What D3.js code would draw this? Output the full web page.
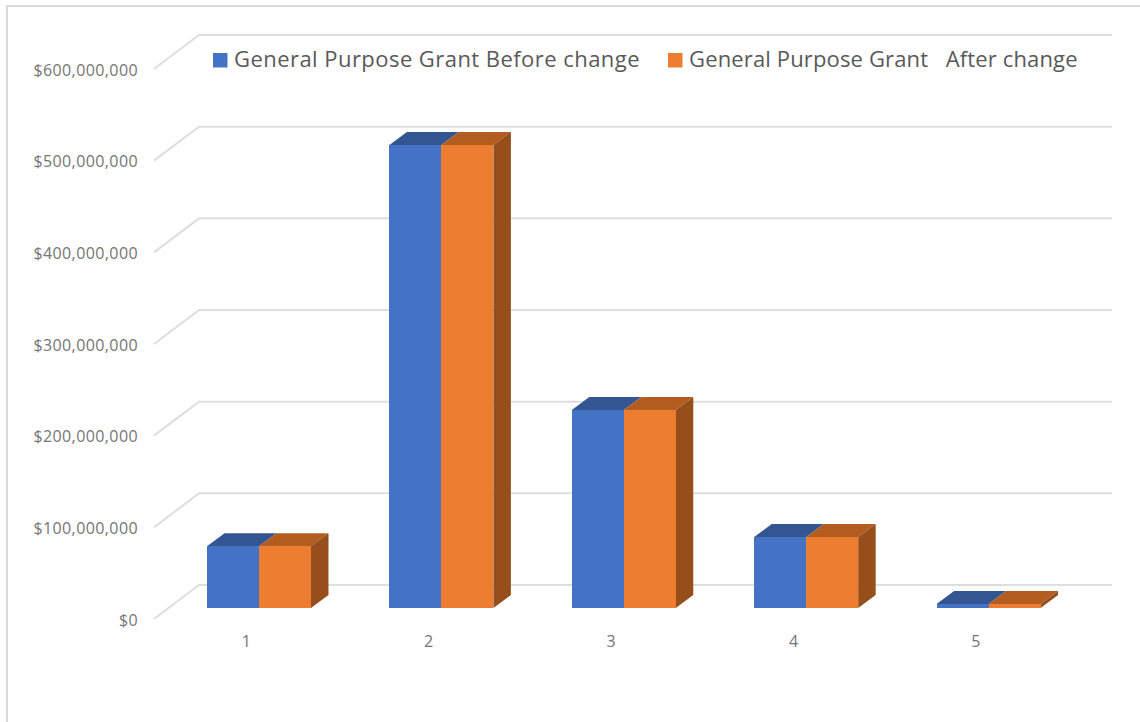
<!doctype html>
<html lang="en">
<head>
  <meta charset="utf-8">
  <title>General Purpose Grant</title>
  <style>
  body{ margin: 0; background: #fff; }
  svg{ display: block; }
  text{ font-family: "Open Sans", sans-serif; }
  .tick text{ font-size: 16px; fill: #757575; letter-spacing: 0.4px; }
  .legend text{ font-size: 22px; fill: #595959; white-space: pre; }
  </style>
  <script src="https://d3js.org/d3.v7.min.js"></script>
</head>
<body>
  <div id="area1"></div>
  <script>
  var categories = ["1", "2", "3", "4", "5"];
  var seriesNames = ["General Purpose Grant Before change", "General Purpose Grant   After change"];
  var before = [67500000, 505000000, 216000000, 77500000, 4400000];
  var after = [67500000, 505000000, 216000000, 77500000, 4400000];
  var yTicks = [0, 100000000, 200000000, 300000000, 400000000, 500000000, 600000000];

  var seriesValues = [before, after];
  var front = ["#4472c4", "#ed7d31"];
  var top_ = ["#335693", "#b25c20"];
  var sideColor = "#964f1b";
  var gridColor = "#dedede";

  var width = 1140, height = 722;
  var depthX = 17.5, depthY = 13;  // offset from the front of a bar to its back
  var wallX0 = 199, wallX1 = 1112;
  var frontDrop = 34;  // front end of each gridline sits this far below the wall
  var barDrop = 23;    // bar fronts stand this far below the wall line

  var svg = d3.select("#area1").append("svg")
    .attr("width", width)
    .attr("height", height);

  // outer frame of the pasted chart, only left and top are in the crop
  svg.append("path")
    .attr("d", "M7,722V6H1140")
    .attr("fill", "none")
    .attr("stroke", "#d9d9d9")
    .attr("stroke-width", 2);

  // y is read on the back wall
  var y = d3.scaleLinear()
    .domain([0, 600000000])
    .range([585, 35]);

  var x0 = d3.scaleBand()
    .domain(categories)
    .range([167.8, 1079.8])
    .paddingInner(0.43)
    .paddingOuter(0.215);

  var x1 = d3.scaleBand()
    .domain([0, 1])
    .range([0, x0.bandwidth()]);

  // gridlines: slanted floor part plus the back wall part
  svg.append("g").selectAll("path")
    .data(yTicks)
    .enter()
    .append("path")
    .attr("d", function(d) {
      return "M154," + (y(d) + frontDrop) + "L" + wallX0 + "," + y(d) + "H" + wallX1;
    })
    .attr("fill", "none")
    .attr("stroke", gridColor)
    .attr("stroke-width", 2);

  // y axis labels
  var yAxis = d3.axisLeft(y)
    .tickValues(yTicks)
    .tickSize(0)
    .tickFormat(d3.format("$,"));

  var yAxisG = svg.append("g")
    .attr("transform", "translate(141," + (frontDrop + 1) + ")")
    .call(yAxis);
  yAxisG.select(".domain").remove();

  // x axis labels
  var xAxis = d3.axisBottom(x0).tickSize(0);
  var xAxisG = svg.append("g")
    .attr("transform", "translate(-12.5,633)")
    .call(xAxis);
  xAxisG.select(".domain").remove();

  // bars
  var groups = svg.append("g").selectAll("g")
    .data(categories)
    .enter()
    .append("g")
    .attr("transform", function(d) { return "translate(" + x0(d) + ",0)"; });

  seriesValues.forEach(function(values, s) {
    groups.each(function(d, i) {
      var g = d3.select(this);
      var left = x1(s), right = left + x1.bandwidth();
      var topY = y(values[i]) + barDrop;
      var baseY = y(0) + barDrop;

      g.append("polygon")
        .attr("points", [
          [left, topY], [right, topY],
          [right + depthX, topY - depthY], [left + depthX, topY - depthY]
        ].join(" "))
        .attr("fill", top_[s]);

      if (s == seriesValues.length - 1) {
        g.append("polygon")
          .attr("points", [
            [right, topY], [right + depthX, topY - depthY],
            [right + depthX, baseY - depthY], [right, baseY]
          ].join(" "))
          .attr("fill", sideColor);
      }

      g.append("rect")
        .attr("x", left)
        .attr("y", topY)
        .attr("width", x1.bandwidth())
        .attr("height", baseY - topY)
        .attr("shape-rendering", "crispEdges")
        .attr("fill", front[s]);
    });
  });

  // legend sits on top of the plot
  var legendX = [213, 668];
  var legendSpacing = [0.45, 0.14];  // the two entries run to different widths in the original
  var legend = svg.append("g").attr("class", "legend");

  seriesNames.forEach(function(name, s) {
    legend.append("rect")
      .attr("x", legendX[s])
      .attr("y", 53)
      .attr("width", 14.5)
      .attr("height", 14.5)
      .attr("fill", front[s]);
    legend.append("text")
      .attr("x", legendX[s] + 21)
      .attr("y", 67)
      .style("letter-spacing", legendSpacing[s] + "px")
      .text(name);
  });
  </script>
</body>
</html>
